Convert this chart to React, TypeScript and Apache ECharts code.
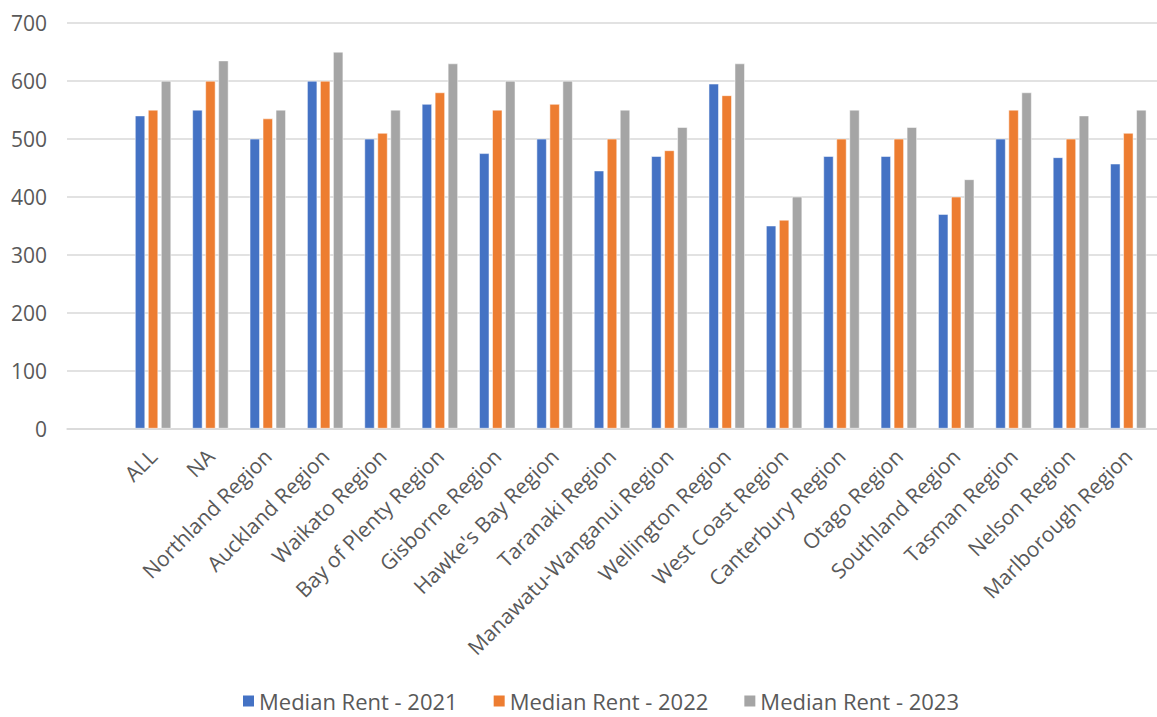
import React, { useEffect, useRef } from "react";
import * as echarts from "echarts";

// Regions in display order
const regions = [
  "ALL",
  "NA",
  "Northland Region",
  "Auckland Region",
  "Waikato Region",
  "Bay of Plenty Region",
  "Gisborne Region",
  "Hawke's Bay Region",
  "Taranaki Region",
  "Manawatu-Wanganui Region",
  "Wellington Region",
  "West Coast Region",
  "Canterbury Region",
  "Otago Region",
  "Southland Region",
  "Tasman Region",
  "Nelson Region",
  "Marlborough Region",
];

const rent2021 = [540, 550, 500, 600, 500, 560, 475, 500, 445, 470, 595, 350, 470, 470, 370, 500, 468, 457];
const rent2022 = [550, 600, 535, 600, 510, 580, 550, 560, 500, 480, 575, 360, 500, 500, 400, 550, 500, 510];
const rent2023 = [600, 635, 550, 650, 550, 630, 600, 600, 550, 520, 630, 400, 550, 520, 430, 580, 540, 550];

const seriesNames = ["Median Rent - 2021", "Median Rent - 2022", "Median Rent - 2023"];
const seriesColors = ["#4472C4", "#ED7D31", "#A5A5A5"];

const yTicks = { min: 0, max: 700, interval: 100 };

const FONT = "'Open Sans', 'Noto Sans', sans-serif";
const TEXT = "#595959";

export default function App() {
  const ref = useRef<HTMLDivElement>(null);

  useEffect(() => {
    document.body.style.margin = "0";
    if (!ref.current) return;
    const chart = echarts.init(ref.current, null, { renderer: "svg" });

    // The category axis keeps an empty leading slot before "ALL"
    const axisCategories = ["", ...regions];
    const withSpacer = (vals: number[]) => [null, ...vals];
    const values = [rent2021, rent2022, rent2023];

    chart.setOption({
      animation: false,
      backgroundColor: "#ffffff",
      textStyle: { fontFamily: FONT },
      grid: { left: 67, top: 23, width: 1098, height: 405.5, containLabel: false },
      legend: {
        data: seriesNames,
        top: 688,
        left: 241,
        padding: 0,
        itemWidth: 13,
        itemHeight: 13,
        itemGap: 34,
        icon: "rect",
        textStyle: {
          color: TEXT,
          fontSize: 22,
          lineHeight: 26,
          fontFamily: FONT,
          padding: [0, 0, 0, -1],
        },
      },
      xAxis: {
        type: "category",
        data: axisCategories,
        axisLine: { show: true, lineStyle: { color: "#D9D9D9", width: 1.5 } },
        axisTick: { show: false },
        axisLabel: {
          interval: 0,
          rotate: 45,
          margin: 24,
          color: TEXT,
          fontSize: 21,
          fontFamily: FONT,
        },
      },
      yAxis: {
        type: "value",
        min: yTicks.min,
        max: yTicks.max,
        interval: yTicks.interval,
        axisLine: { show: false },
        axisTick: { show: false },
        axisLabel: { color: TEXT, fontSize: 21, margin: 20, fontFamily: FONT },
        splitLine: { lineStyle: { color: "#D9D9D9", width: 1.5 } },
      },
      series: seriesNames.map((name, i) => ({
        name,
        type: "bar",
        data: withSpacer(values[i]),
        barWidth: 10,
        barGap: "30%",
        itemStyle: { color: seriesColors[i], borderColor: "#ffffff", borderWidth: 0.5 },
      })),
    });

    return () => chart.dispose();
  }, []);

  return <div ref={ref} style={{ width: 1157, height: 717 }} />;
}
